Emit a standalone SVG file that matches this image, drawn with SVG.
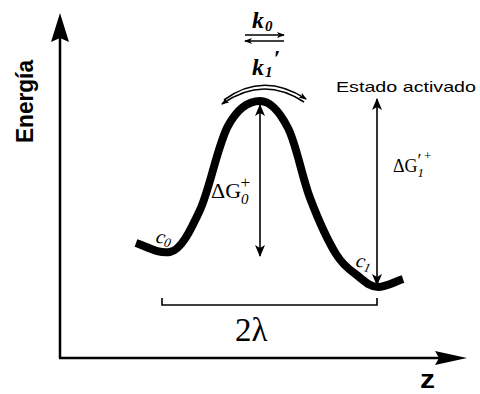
<svg xmlns="http://www.w3.org/2000/svg" width="480" height="394" viewBox="0 0 480 394">
  <defs>
    <marker id="ah" viewBox="0 0 12 10" refX="11" refY="5" markerWidth="12" markerHeight="10" markerUnits="userSpaceOnUse" orient="auto-start-reverse">
      <path d="M0,0 L12,5 L0,10 L3,5 Z" fill="#000"/>
    </marker>
    <marker id="ahs" viewBox="0 0 8 6" refX="7" refY="3" markerWidth="8" markerHeight="6" markerUnits="userSpaceOnUse" orient="auto-start-reverse">
      <path d="M0,0 L8,3 L0,6 L2,3 Z" fill="#000"/>
    </marker>
  </defs>
  <style>
    .ax { stroke: #000; stroke-width: 2.5; fill: none; }
    .thin { stroke: #000; stroke-width: 1.6; fill: none; }
    .curve { stroke: #000; stroke-width: 8; fill: none; stroke-linecap: butt; }
    .serif { font-family: "Liberation Serif", "Times New Roman", serif; fill: #000; }
    .sans { font-family: "Liberation Sans", Arial, sans-serif; fill: #000; }
    .k { font-style: italic; font-weight: bold; font-size: 24px; }
    .dg { font-size: 22px; }
    .c { font-style: italic; font-size: 20px; }
  </style>
  <rect width="480" height="394" fill="#fff"/>

  <g id="axes">
    <line class="ax" x1="60" y1="358" x2="60" y2="38"/>
    <polygon points="60,13 69,42 60,38 51,42" fill="#000"/>
    <line class="ax" x1="59" y1="358" x2="440" y2="358"/>
    <polygon points="467,358 435,351 439,358 435,365" fill="#000"/>
    <text class="sans" transform="translate(33,143) rotate(-90)" font-size="23" font-weight="bold" textLength="83" lengthAdjust="spacingAndGlyphs">Energía</text>
    <text class="sans" x="420" y="388" font-size="25" font-weight="bold" textLength="15" lengthAdjust="spacingAndGlyphs">z</text>
  </g>

  <g id="energy-curve">
    <path class="curve" d="M136,243 C147.3,247 159,254 170,252 C181,250 190.3,231 200,210 C209.7,189 218,144.3 228,126 C238,107.7 250,101 260,101 C270,101 279.7,111.8 288,128 C296.3,144.2 302,177 310,198 C318,219 328,241 336,254 C344,267 351,270.5 358,276 C365,281.5 370,287 378,287 C386,287 394.7,281.7 403,279"/>
  </g>

  <g id="connectors">
    <line id="dG0-arrow" class="thin" x1="260" y1="105" x2="260" y2="256" marker-start="url(#ah)" marker-end="url(#ah)"/>
    <line id="dG1-arrow" class="thin" x1="377" y1="99" x2="377" y2="285" marker-start="url(#ah)" marker-end="url(#ah)"/>
    <path id="arc-out" class="thin" stroke-width="1.3" d="M224,100 Q263,71 306,99" marker-end="url(#ahs)"/>
    <path id="arc-in" class="thin" stroke-width="1.3" d="M222,104 Q263,75 304,102" marker-start="url(#ahs)"/>
    <line id="eq-fwd" class="thin" stroke-width="1.4" x1="245" y1="35" x2="284" y2="35" marker-end="url(#ahs)"/>
    <line id="eq-back" class="thin" stroke-width="1.4" x1="245" y1="41" x2="284" y2="41" marker-start="url(#ahs)"/>
    <path id="bracket" class="thin" stroke-width="2" d="M162,298 V305 H377 V298"/>
  </g>

  <g id="labels">
    <text class="serif k" x="252" y="28">k<tspan dx="1" dy="3" font-size="15">0</tspan></text>
    <text class="serif k" x="252" y="75">k<tspan dx="1" dy="2" font-size="15">1</tspan><tspan dx="1" dy="-11" font-size="24">′</tspan></text>
    <text class="serif dg" x="211" y="198">ΔG<tspan font-style="italic" font-size="15" dy="6">0</tspan><tspan font-size="17" dx="-8" dy="-16">+</tspan></text>
    <text class="serif" x="393" y="172" font-size="18">ΔG<tspan font-size="18" dy="-5">′</tspan><tspan font-size="13" font-style="italic" dx="-4" dy="10">1</tspan><tspan font-size="13" dy="-17">+</tspan></text>
    <text class="sans" x="336" y="92" font-size="15" textLength="140" lengthAdjust="spacingAndGlyphs">Estado activado</text>
    <text class="serif c" transform="translate(155,242) rotate(14)">c<tspan font-size="13" dy="2">0</tspan></text>
    <text class="serif c" transform="translate(355,266) rotate(14)">c<tspan font-size="13" dy="3">1</tspan></text>
    <text class="serif" x="235" y="341" font-size="33">2λ</text>
  </g>
</svg>
